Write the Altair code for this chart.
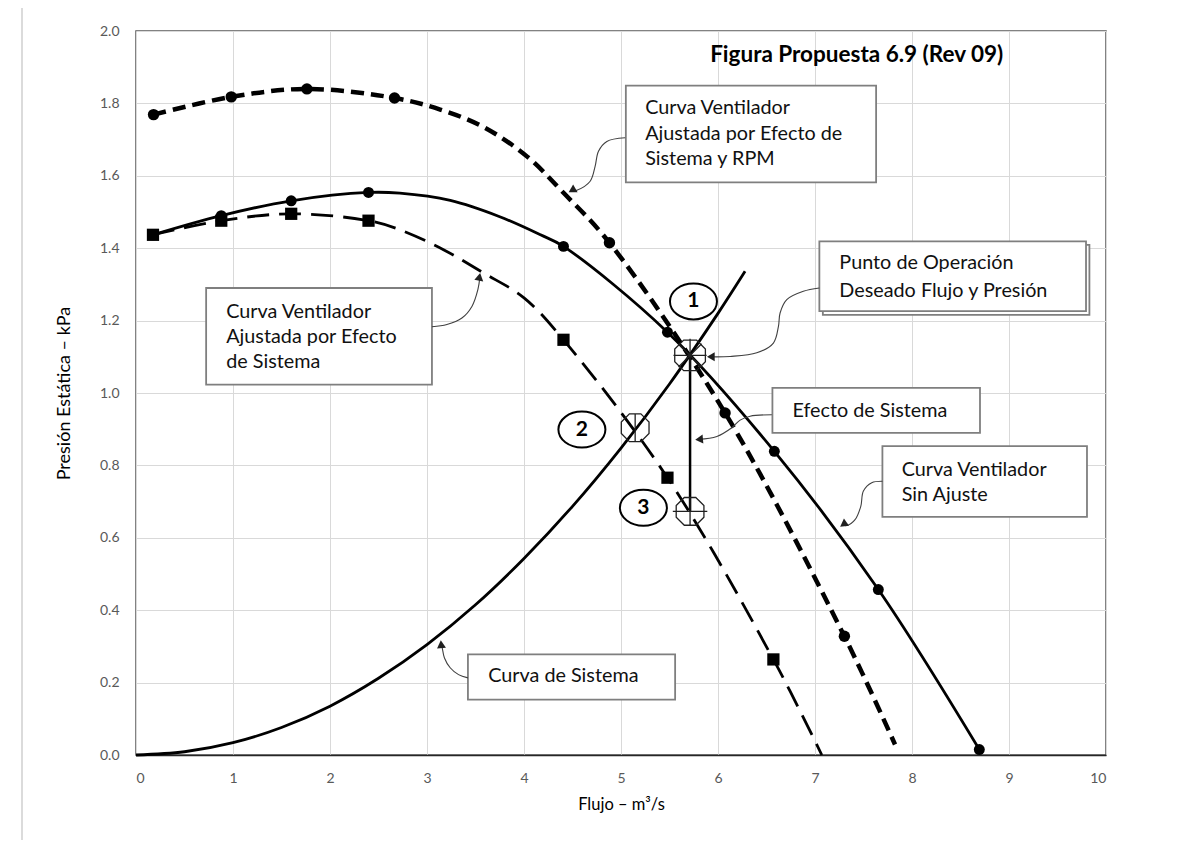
import altair as alt
import pandas as pd

# ---------------- data ----------------
# Curva Ventilador Sin Ajuste (solid line, circle markers)
sin_mk_x = [0.175, 0.879, 1.60, 2.397, 4.407, 5.479, 6.581, 7.653, 8.694]
sin_mk_y = [1.437, 1.490, 1.531, 1.554, 1.405, 1.168, 0.839, 0.457, 0.015]
sin_ln_x = [0.175, 0.879, 1.60, 2.397, 2.72, 3.24, 3.75, 4.17, 4.407, 5.479, 6.581, 7.653, 8.694]
sin_ln_y = [1.437, 1.490, 1.531, 1.554, 1.552, 1.532, 1.487, 1.437, 1.405, 1.168, 0.839, 0.457, 0.015]

# Curva Ventilador Ajustada por Efecto de Sistema (long dashes, square markers)
sis_mk_x = [0.175, 0.879, 1.60, 2.397, 4.407, 5.479, 6.571]
sis_mk_y = [1.437, 1.476, 1.495, 1.476, 1.147, 0.766, 0.264]
sis_ln_x = [0.175, 0.879, 1.60, 2.397, 2.72, 3.17, 3.58, 4.0, 4.407, 5.479, 6.571, 7.07]
sis_ln_y = [1.437, 1.476, 1.495, 1.476, 1.451, 1.396, 1.332, 1.263, 1.147, 0.766, 0.264, 0.0]

# Curva Ventilador Ajustada por Efecto de Sistema y RPM (heavy short dashes, circles)
rpm_mk_x = [0.181, 0.982, 1.762, 2.665, 4.881, 6.073, 7.303]
rpm_mk_y = [1.769, 1.818, 1.840, 1.815, 1.415, 0.945, 0.328]
rpm_ln_x = [0.181, 0.982, 1.762, 2.665, 3.136, 3.581, 4.033, 4.407, 4.881, 6.073, 7.303, 7.825]
rpm_ln_y = [1.769, 1.818, 1.840, 1.815, 1.783, 1.735, 1.653, 1.553, 1.415, 0.945, 0.328, 0.029]

# Curva de Sistema
sys_x = [0.0, 0.5, 1.0, 1.5, 2.0, 2.5, 3.0, 3.5, 4.0, 4.5, 5.0, 5.5, 6.0, 6.279]
sys_y = [0.0, 0.009, 0.034, 0.076, 0.135, 0.212, 0.305, 0.415, 0.543, 0.687, 0.848, 1.025, 1.22, 1.336]

# operating points 1, 2, 3 and their numbered labels
op_id = ["1", "2", "3"]
op_x = [5.712, 5.146, 5.712]
op_y = [1.104, 0.904, 0.673]
lab_x = [5.747, 4.597, 5.231]
lab_y = [1.253, 0.899, 0.683]

# axis ticks
x_ticks = list(range(0, 11))
y_ticks = [0.0, 0.2, 0.4, 0.6, 0.8, 1.0, 1.2, 1.4, 1.6, 1.8, 2.0]

title_text = "Figura Propuesta 6.9 (Rev 09)"
x_title = "Flujo – m³/s"
y_title = "Presión Estática – kPa"

# annotation boxes (data units): x1, x2, y1, y2
box_x1 = [5.050, 7.081, 7.045, 6.561, 7.695, 3.422, 0.723]
box_x2 = [7.630, 9.829, 9.794, 8.701, 9.804, 5.558, 3.051]
box_y1 = [1.849, 1.409, 1.419, 1.014, 0.853, 0.278, 1.290]
box_y2 = [1.582, 1.216, 1.226, 0.890, 0.658, 0.153, 1.023]

# annotation text lines
txt = ["Curva Ventilador", "Ajustada por Efecto de", "Sistema y RPM",
       "Punto de Operación", "Deseado Flujo y Presión",
       "Efecto de Sistema",
       "Curva Ventilador", "Sin Ajuste",
       "Curva de Sistema",
       "Curva Ventilador", "Ajustada por Efecto", "de Sistema"]
txt_x = [5.249, 5.249, 5.249, 7.251, 7.251, 6.767, 7.894, 7.894, 3.631, 0.930, 0.930, 0.930]
txt_y = [1.787, 1.716, 1.646, 1.359, 1.283, 0.949, 0.787, 0.717, 0.217, 1.224, 1.155, 1.086]

# connector curves (id, points)
con_id = ([0] * 7) + ([1] * 6) + ([2] * 9) + ([3] * 6) + ([4] * 7) + ([5] * 6)
con_x = [5.043, 4.854, 4.768, 4.733, 4.682, 4.545, 4.480,
         3.051, 3.205, 3.360, 3.463, 3.525, 3.545,
         7.045, 6.880, 6.709, 6.640, 6.623, 6.571, 6.400, 6.125, 5.920,
         6.555, 6.331, 6.228, 6.142, 5.988, 5.800,
         7.695, 7.585, 7.499, 7.472, 7.413, 7.328, 7.285,
         3.422, 3.325, 3.239, 3.180, 3.154, 3.146]
con_y = [1.705, 1.695, 1.668, 1.626, 1.585, 1.560, 1.557,
         1.183, 1.189, 1.207, 1.239, 1.286, 1.320,
         1.290, 1.281, 1.258, 1.221, 1.184, 1.138, 1.111, 1.101, 1.100,
         0.940, 0.936, 0.925, 0.904, 0.880, 0.872,
         0.756, 0.752, 0.729, 0.687, 0.650, 0.634, 0.636,
         0.213, 0.222, 0.241, 0.268, 0.300, 0.306]
head_x = [4.495, 3.541, 5.926, 5.805, 7.292, 3.146]
head_y = [1.560, 1.321, 1.100, 0.872, 0.637, 0.306]
head_angle = [240, 10, 270, 265, 235, 355]

# ---------------- styling ----------------
FONT = "Lato"
xs = alt.Scale(domain=[0, 10], nice=False, zero=False)
ys = alt.Scale(domain=[0, 2], nice=False, zero=False)
x_axis = alt.Axis(values=x_ticks, format="d", grid=True, gridColor="#d9d9d9",
                  gridWidth=1, ticks=False, domain=True, domainColor="#262626",
                  domainWidth=1.5, labelColor="#595959", labelFont=FONT,
                  labelFontSize=14, labelPadding=16, titleFont=FONT,
                  titleFontSize=16.5, titleFontWeight="normal", titleColor="black",
                  titlePadding=11)
y_axis = alt.Axis(values=y_ticks, format=".1f", grid=True, gridColor="#d9d9d9",
                  gridWidth=1, ticks=False, domain=False, labelColor="#595959",
                  labelFont=FONT, labelFontSize=14, labelPadding=17,
                  titleFont=FONT, titleFontSize=18, titleFontWeight="normal",
                  titleColor="black", titlePadding=26)
XN = alt.X("x:Q", scale=xs, title=x_title, axis=x_axis)
YN = alt.Y("y:Q", scale=ys, title=y_title, axis=y_axis)

OCT = ("M0.383,-0.924L0.924,-0.383L0.924,0.383L0.383,0.924L-0.383,0.924"
       "L-0.924,0.383L-0.924,-0.383L-0.383,-0.924Z")
op_shapes = [OCT + "M-1,0L1,0M0,-1L0,1M-0.7,-0.7L0.7,0.7M-0.7,0.7L0.7,-0.7",
             OCT + "M0,-0.924L0,0.924",
             OCT + "M-1.15,0L1.15,0M0,-0.924L0,0.924"]
op_sizes = [1100, 900, 900]
ELL = ("M1,0C1,0.423 0.552,0.766 0,0.766C-0.552,0.766 -1,0.423 -1,0"
       "C-1,-0.423 -0.552,-0.766 0,-0.766C0.552,-0.766 1,-0.423 1,0Z")


def frame(xv, yv, **extra):
    d = pd.DataFrame({"x": xv, "y": yv})
    for k, v in extra.items():
        d[k] = v
    return d


outer = alt.Chart(pd.DataFrame({"a": [0]})).mark_rect(
    fill="transparent", stroke="#d0d0d0", strokeWidth=1.5
).encode(x=alt.value(-114), y=alt.value(-24), x2=alt.value(1300), y2=alt.value(900))

sys_layer = alt.Chart(frame(sys_x, sys_y)).mark_line(
    color="black", strokeWidth=2.8, interpolate="catmull-rom"
).encode(x=XN, y=YN)

sis_line = alt.Chart(frame(sis_ln_x, sis_ln_y)).mark_line(
    color="black", strokeWidth=2.8, strokeDash=[22, 10], interpolate="catmull-rom"
).encode(x=XN, y=YN)
sin_line = alt.Chart(frame(sin_ln_x, sin_ln_y)).mark_line(
    color="black", strokeWidth=2.8, interpolate="catmull-rom"
).encode(x=XN, y=YN)
rpm_line = alt.Chart(frame(rpm_ln_x, rpm_ln_y)).mark_line(
    color="black", strokeWidth=4.5, strokeDash=[13, 7], interpolate="catmull-rom"
).encode(x=XN, y=YN)

sis_pts = alt.Chart(frame(sis_mk_x, sis_mk_y)).mark_point(
    shape="square", filled=True, color="black", size=150, opacity=1
).encode(x=XN, y=YN)
sin_pts = alt.Chart(frame(sin_mk_x, sin_mk_y)).mark_point(
    shape="circle", filled=True, color="black", size=120, opacity=1
).encode(x=XN, y=YN)
rpm_pts = alt.Chart(frame(rpm_mk_x, rpm_mk_y)).mark_point(
    shape="circle", filled=True, color="black", size=130, opacity=1
).encode(x=XN, y=YN)

efecto = alt.Chart(pd.DataFrame({"x": [op_x[0]], "y": [op_y[0]], "y2": [op_y[2]]})).mark_rule(
    color="black", strokeWidth=2.5
).encode(x=XN, y=YN, y2="y2:Q")

boxes_df = pd.DataFrame({"x": box_x1, "x2": box_x2, "y": box_y1, "y2": box_y2})
boxes = alt.Chart(boxes_df).mark_rect(
    fill="white", stroke="#7f7f7f", strokeWidth=1.8
).encode(x=XN, x2="x2:Q", y=YN, y2="y2:Q")

con_df = pd.DataFrame({"x": con_x, "y": con_y, "id": con_id,
                       "i": list(range(len(con_x)))})
connectors = alt.Chart(con_df).mark_line(
    color="#404040", strokeWidth=1.1, interpolate="catmull-rom"
).encode(x=XN, y=YN, detail="id:N", order="i:Q")
heads = alt.Chart(frame(head_x, head_y, angle=head_angle)).mark_point(
    shape="triangle-up", filled=True, color="#202020", size=80, opacity=1
).encode(x=XN, y=YN, angle=alt.Angle("angle:Q", scale=None))

labels = alt.Chart(frame(txt_x, txt_y, t=txt)).mark_text(
    font=FONT, fontSize=19.8, align="left", baseline="middle", color="#111111"
).encode(x=XN, y=YN, text="t:N")

ellipses = alt.Chart(frame(lab_x, lab_y)).mark_point(
    shape=ELL, size=2209, filled=True, fill="white", stroke="black",
    strokeWidth=2, opacity=1
).encode(x=XN, y=YN)
digits = alt.Chart(frame(lab_x, lab_y, t=op_id)).mark_text(
    font=FONT, fontSize=21, fontWeight="bold", align="center", baseline="middle",
    color="black"
).encode(x=XN, y=YN, text="t:N")

op_layers = []
for k in range(3):
    op_layers.append(
        alt.Chart(frame([op_x[k]], [op_y[k]])).mark_point(
            shape=op_shapes[k], size=op_sizes[k], filled=False, stroke="#202020",
            strokeWidth=1.3, opacity=1
        ).encode(x=XN, y=YN)
    )

title = alt.Chart(pd.DataFrame({"x": [5.919], "y": [1.933], "t": [title_text]})).mark_text(
    font=FONT, fontSize=22.5, fontWeight="bold", align="left", baseline="middle", color="black"
).encode(x=XN, y=YN, text="t:N")

chart = alt.layer(
    outer, sys_layer, sis_line, sin_line, rpm_line, sis_pts, sin_pts, rpm_pts, efecto,
    boxes, connectors, heads, labels, ellipses, digits, *op_layers, title
).properties(
    width=970, height=724,
    autosize=alt.AutoSizeParams(type="none"),
    padding={"left": 128, "top": 23, "right": 70, "bottom": 85},
    background="white",
).configure_view(stroke="#595959", strokeWidth=1.5)

chart.save("out.html", embed_options={"renderer": "svg", "actions": False})
